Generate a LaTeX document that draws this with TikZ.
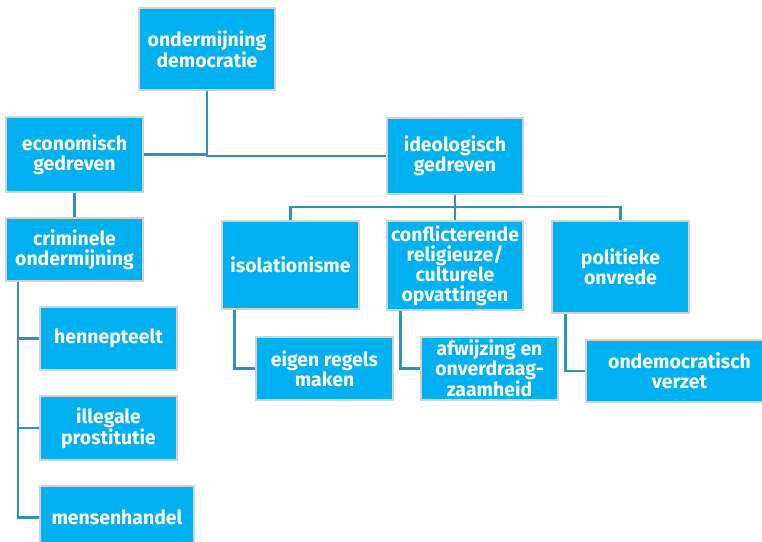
\documentclass[tikz,border=0pt]{standalone}
\usepackage{fontspec}
\setmainfont{Fira Sans}
\usetikzlibrary{calc}
\definecolor{boxfill}{RGB}{0,176,240}
\definecolor{boxline}{RGB}{210,210,210}
\definecolor{conn}{RGB}{48,145,192}
\tikzset{
  box/.style={draw=boxline, line width=1.2pt, fill=boxfill, text=white, align=center,
    font=\bfseries\fontsize{19.5}{20}\selectfont, inner sep=0pt},
  link/.style={draw=conn, line width=2.2pt}
}
\begin{document}
\begin{tikzpicture}[x=1bp,y=-1bp]
\useasboundingbox (0,0) rectangle (762,542);
\node[box, minimum width=136bp, minimum height=82bp] (root) at (207,49) {ondermijning\\democratie};
\node[box, minimum width=137bp, minimum height=75bp] (econ) at (74.5,154.5) {economisch\\gedreven};
\node[box, minimum width=136bp, minimum height=76bp] (ideo) at (455,156) {ideologisch\\gedreven};
\node[box, minimum width=137bp, minimum height=63bp] (crim) at (74.5,249.5) {criminele\\ondermijning};
\node[box, minimum width=137bp, minimum height=63bp] (henn) at (108.5,338.5) {hennepteelt};
\node[box, minimum width=137bp, minimum height=64bp] (illeg) at (108.5,428) {illegale\\prostitutie};
\node[box, minimum width=154bp, minimum height=63bp] (mens) at (117,517.5) {mensenhandel};
\node[box, minimum width=137bp, minimum height=88bp] (iso) at (290.5,265) {isolationisme};
\node[box, minimum width=136bp, minimum height=89bp] (conf) at (455,265.5) {conflicterende\\religieuze/\\culturele\\opvattingen};
\node[box, minimum width=137bp, minimum height=92bp] (pol) at (620.5,267) {politieke\\onvrede};
\node[box, minimum width=137bp, minimum height=63bp] (eigen) at (324.5,368.5) {eigen regels\\maken};
\node[box, minimum width=137bp, minimum height=63bp] (afw) at (489.5,368.5) {afwijzing en\\onverdraag-\\zaamheid};
\node[box, minimum width=187bp, minimum height=62bp] (onde) at (679.5,371) {ondemocratisch\\verzet};
\coordinate (bar) at (455,207);
\draw[link] (root.south) -- (root.south |- ideo.west) -- (ideo.west);
\draw[link] (econ.east) -- (econ.east -| root.south);
\draw[link] (econ.south) -- (crim.north);
\draw[link] (ideo.south) -- (bar);
\draw[link] (iso.north) |- (bar) -| (pol.north);
\draw[link] (bar) -- (conf.north);
\coordinate (cl) at ($(crim.south west)+(13,0)$);
\draw[link] (cl) |- (mens.west);
\draw[link] (cl |- henn.west) -- (henn.west);
\draw[link] (cl |- illeg.west) -- (illeg.west);
\draw[link] ($(iso.south west)+(13,0)$) |- (eigen.west);
\draw[link] ($(conf.south west)+(14,0)$) |- (afw.west);
\draw[link] ($(pol.south west)+(14,0)$) |- (onde.west);
\end{tikzpicture}
\end{document}
